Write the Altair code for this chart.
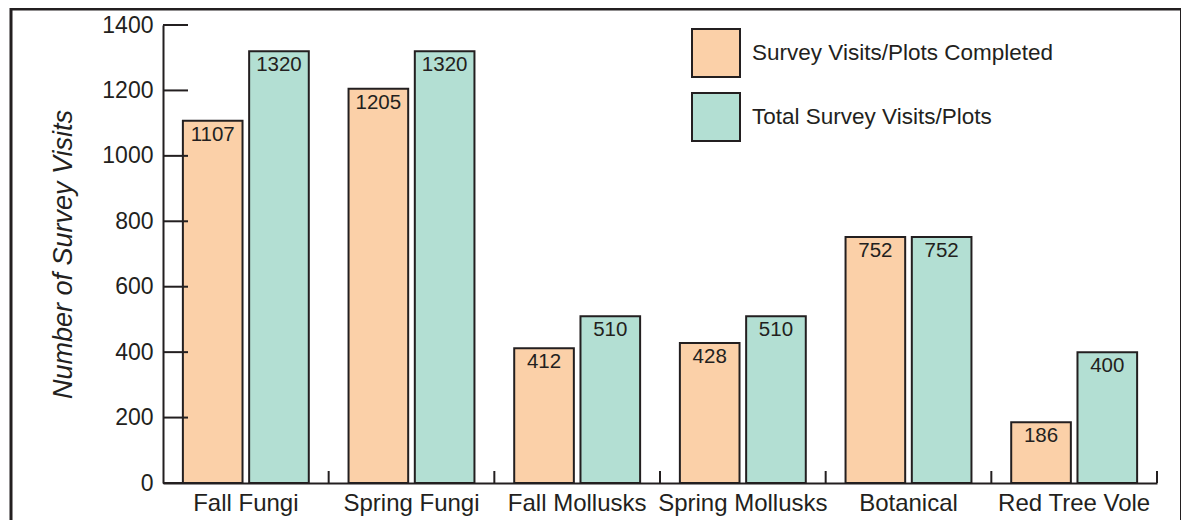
import altair as alt
import pandas as pd

categories = ["Fall Fungi", "Spring Fungi", "Fall Mollusks", "Spring Mollusks", "Botanical", "Red Tree Vole"]
completed = [1107, 1205, 412, 428, 752, 186]
total = [1320, 1320, 510, 510, 752, 400]
series = ["Survey Visits/Plots Completed", "Total Survey Visits/Plots"]
colors = ["#FBD0A8", "#B3DFD3"]
y_ticks = [0, 200, 400, 600, 800, 1000, 1200, 1400]

rows = []
for c, a, b in zip(categories, completed, total):
    rows.append({"cat": c, "series": series[0], "value": a})
    rows.append({"cat": c, "series": series[1], "value": b})
df = pd.DataFrame(rows)
ticks_df = pd.DataFrame({"t": y_ticks})
cat_df = pd.DataFrame({"cat": categories})
frame_df = pd.DataFrame({"a": [0]})

FONT = "Liberation Sans"
INK = "#231F20"

xscale = alt.Scale(domain=categories, paddingInner=0, paddingOuter=0)
yscale = alt.Scale(domain=[0, 1400], nice=False)

x_enc = alt.X("cat:N", scale=xscale, sort=categories,
              axis=alt.Axis(title=None, labelAngle=0, ticks=False, tickSize=0, labelPadding=8,
                            labelFontSize=24, labelFont=FONT, labelColor=INK,
                            domainColor=INK, domainWidth=2, grid=False))
y_enc = alt.Y("value:Q", scale=yscale,
              axis=alt.Axis(title="Number of Survey Visits", values=y_ticks, format="d",
                            ticks=False, tickSize=0,
                            labelPadding=10, labelFontSize=23, labelFont=FONT, labelColor=INK,
                            titleFont=FONT, titleFontSize=27, titleFontStyle="italic",
                            titleFontWeight="normal", titleColor=INK, titlePadding=24,
                            domainColor=INK, domainWidth=2, grid=False))
xoff = alt.XOffset("series:N", sort=series, scale=alt.Scale(paddingInner=0.1, paddingOuter=0.3))

bars = alt.Chart(df).mark_bar(stroke=INK, strokeWidth=2).encode(
    x=x_enc,
    y=y_enc,
    xOffset=xoff,
    color=alt.Color("series:N", sort=series, scale=alt.Scale(domain=series, range=colors),
                    legend=alt.Legend(title=None, orient="none", legendX=528, legendY=3,
                                      symbolType="square", symbolSize=2304, symbolStrokeColor=INK,
                                      symbolStrokeWidth=2, symbolOpacity=1, rowPadding=8,
                                      labelOffset=11, labelFontSize=22.5, labelFont=FONT,
                                      labelColor=INK, padding=0, labelLimit=400)),
)

labels = alt.Chart(df).mark_text(baseline="top", dy=4, fontSize=20.5, font=FONT, color=INK).encode(
    x=alt.X("cat:N", scale=xscale, sort=categories),
    y=alt.Y("value:Q", scale=yscale),
    xOffset=xoff,
    text="value:Q",
)

ytick_marks = alt.Chart(ticks_df).mark_rule(color=INK, strokeWidth=2).encode(
    y=alt.Y("t:Q", scale=yscale),
    x=alt.value(0),
    x2=alt.value(25),
)

xtick_marks = alt.Chart(cat_df).mark_rule(color=INK, strokeWidth=2).encode(
    x=alt.X("cat:N", scale=xscale, sort=categories, bandPosition=1),
    y=alt.value(446),
    y2=alt.value(458),
)

frame = alt.Chart(frame_df).mark_rect(fill="transparent", stroke=INK, strokeWidth=3).encode(
    x=alt.value(-152), x2=alt.value(1018.5), y=alt.value(-16), y2=alt.value(620)
)

chart = alt.layer(frame, bars, labels, ytick_marks, xtick_marks).properties(
    width=994, height=458,
    autosize=alt.AutoSizeParams(type="none"),
    padding={"left": 155, "top": 17, "right": 24, "bottom": 37},
    background="white",
).configure_view(stroke=None)

chart.save("out.html", embed_options={"renderer": "svg", "actions": False})
